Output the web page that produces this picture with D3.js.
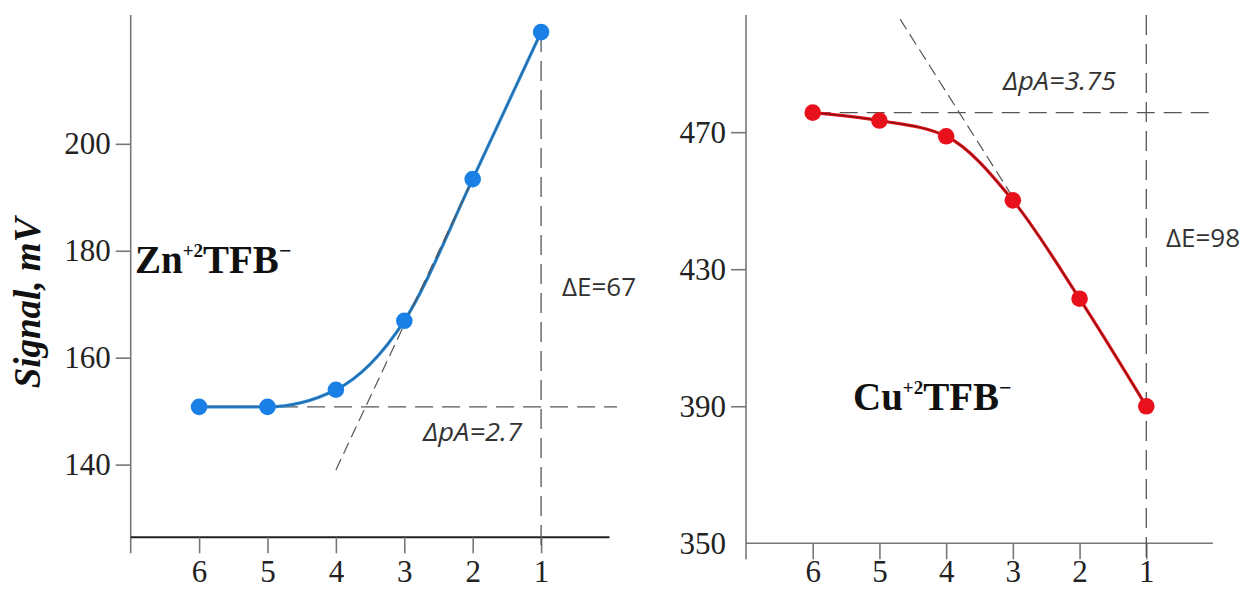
<!DOCTYPE html>
<html>
<head>
<meta charset="utf-8">
<script src="https://cdn.jsdelivr.net/npm/d3@7"></script>
<style>
  body { margin: 0; background: #fff; }
  svg { display: block; }
</style>
</head>
<body>
<div id="chart"></div>
<script>
// values
const pA = [6, 5, 4, 3, 2, 1];
const znSignal = [150.8, 150.8, 154.0, 166.9, 193.4, 220.9];
const cuSignal = [475.7, 473.4, 468.8, 450.1, 421.4, 390.0];
const znTicks = [140, 160, 180, 200];
const cuTicks = [350, 390, 430, 470];
const znTangent = [[4, 139.0], [2, 193.4]];
const cuTangent = [[4.69, 503.0], [3, 451.0]];
const znLabels = {dpA: "2.7", dE: "67"};
const cuLabels = {dpA: "3.75", dE: "98"};

const width = 1242, height = 589;
const svg = d3.select("#chart").append("svg")
    .attr("width", width)
    .attr("height", height);

function drawPanel(p) {
    let x = d3.scaleLinear().domain([7, 0]).range([p.left, p.right]);
    let y = d3.scaleLinear().domain(p.yDomain).range([p.bottom, p.top]);
    let g = svg.append("g");
    let serif = "'Liberation Serif', 'Times New Roman', serif";

    // axis lines, y axis runs a bit below the x axis
    g.append("line")
        .attr("x1", p.left).attr("x2", p.left)
        .attr("y1", p.top).attr("y2", p.bottom + 16)
        .attr("stroke", "#777").attr("stroke-width", 1.6);
    g.append("line")
        .attr("x1", p.left).attr("x2", p.right)
        .attr("y1", p.bottom).attr("y2", p.bottom)
        .attr("stroke", p.xAxisColor).attr("stroke-width", p.xAxisWidth);

    let yAxis = g.append("g")
        .attr("transform", "translate(" + p.left + ",0)")
        .call(d3.axisLeft(y).tickValues(p.yTicks).tickSize(15).tickPadding(5));
    yAxis.select(".domain").remove();
    yAxis.selectAll(".tick line").attr("stroke", "#777").attr("stroke-width", 1.6)
        .attr("display", d => d === p.yDomain[0] ? "none" : null);
    yAxis.selectAll(".tick text")
        .attr("font-family", serif)
        .attr("font-size", 31).attr("fill", "#222");

    let xAxis = g.append("g")
        .attr("transform", "translate(0," + p.bottom + ")")
        .call(d3.axisBottom(x).tickValues(pA).tickFormat(d3.format("d"))
            .tickSize(16).tickPadding(p.xPad));
    xAxis.select(".domain").remove();
    xAxis.selectAll(".tick line").attr("stroke", "#777").attr("stroke-width", 1.6);
    xAxis.selectAll(".tick text")
        .attr("font-family", serif)
        .attr("font-size", 31).attr("fill", "#222");

    // guide lines
    let guide = "#555";
    g.append("line")
        .attr("x1", x(pA[0])).attr("x2", x(p.hEnd))
        .attr("y1", y(p.hValue)).attr("y2", y(p.hValue))
        .attr("stroke", guide).attr("stroke-width", 1.3)
        .attr("stroke-dasharray", "18,9");
    g.append("line")
        .attr("x1", x(1)).attr("x2", x(1))
        .attr("y1", p.vTop === null ? y(p.series[5]) : p.vTop).attr("y2", p.bottom + 16)
        .attr("stroke", guide).attr("stroke-width", 1.3)
        .attr("stroke-dasharray", "20,9");

    let pts = pA.map((d, i) => [d, p.series[i]]);
    let line = d3.line().x(d => x(d[0])).y(d => y(d[1])).curve(d3.curveMonotoneX);
    g.append("path").attr("d", line(pts))
        .attr("fill", "none").attr("stroke", p.color).attr("stroke-width", 3.2);
    g.append("path").attr("d", line(pts))
        .attr("fill", "none").attr("stroke", p.dark).attr("stroke-width", 1.1)
        .attr("stroke-opacity", p.darkOpacity);

    g.append("line")
        .attr("x1", x(p.tangent[0][0])).attr("y1", y(p.tangent[0][1]))
        .attr("x2", x(p.tangent[1][0])).attr("y2", y(p.tangent[1][1]))
        .attr("stroke", guide).attr("stroke-width", 1.2)
        .attr("stroke-dasharray", "12,6");

    g.selectAll("circle.pt").data(pts).enter().append("circle")
        .attr("class", "pt")
        .attr("cx", d => x(d[0])).attr("cy", d => y(d[1]))
        .attr("r", 8.3).attr("fill", p.dot);

    // annotations
    let sans = "'Open Sans', 'Noto Sans', sans-serif";
    g.append("text")
        .attr("x", p.dpAPos[0]).attr("y", p.dpAPos[1])
        .attr("font-family", sans).attr("font-style", "italic")
        .attr("font-size", 26).attr("fill", "#333")
        .attr("textLength", p.dpALen).attr("lengthAdjust", "spacingAndGlyphs")
        .text("\u0394pA=" + p.labels.dpA);
    g.append("text")
        .attr("x", p.dEPos[0]).attr("y", p.dEPos[1])
        .attr("font-family", sans)
        .attr("font-size", 26).attr("fill", "#333")
        .text("\u0394E=" + p.labels.dE);

    let name = g.append("text")
        .attr("x", p.namePos[0]).attr("y", p.namePos[1])
        .attr("font-family", serif)
        .attr("font-weight", "bold").attr("font-size", 39).attr("fill", "#111");
    name.append("tspan").text(p.ion);
    name.append("tspan").attr("font-size", 19).attr("dy", -16).text("+2");
    name.append("tspan").attr("dy", 16).text("TFB");
    name.append("tspan").attr("font-size", 22).attr("dy", -15).text("\u2212");
}

drawPanel({
    left: 130.7, right: 609.5, top: 15, bottom: 537.3,
    yDomain: [126.4, 224.1], yTicks: znTicks,
    series: znSignal, color: "#2b8ad6", dot: "#1a80e6", dark: "#1d3550", darkOpacity: 0.45,
    xAxisColor: "#222", xAxisWidth: 2, xPad: 7,
    hValue: znSignal[0], hEnd: -0.11, vTop: null,
    tangent: znTangent, labels: znLabels, dpALen: 99,
    dpAPos: [423, 441], dEPos: [562, 296], namePos: [135, 273], ion: "Zn"
});

drawPanel({
    left: 746, right: 1213, top: 15, bottom: 543.3,
    yDomain: [350, 504.2], yTicks: cuTicks,
    series: cuSignal, color: "#e8141c", dot: "#e8111b", dark: "#5a1010", darkOpacity: 0.75,
    xAxisColor: "#777", xAxisWidth: 1.6, xPad: 1,
    hValue: cuSignal[0], hEnd: -0.03, vTop: 15,
    tangent: cuTangent, labels: cuLabels, dpALen: 113,
    dpAPos: [1003, 90], dEPos: [1166, 247], namePos: [853, 410], ion: "Cu"
});

svg.append("text")
    .attr("transform", "translate(40,303) rotate(-90)")
    .attr("text-anchor", "middle")
    .attr("font-family", "'Liberation Serif', 'Times New Roman', serif")
    .attr("font-weight", "bold").attr("font-style", "italic")
    .attr("font-size", 37).attr("fill", "#111")
    .text("Signal, mV");
</script>
</body>
</html>
